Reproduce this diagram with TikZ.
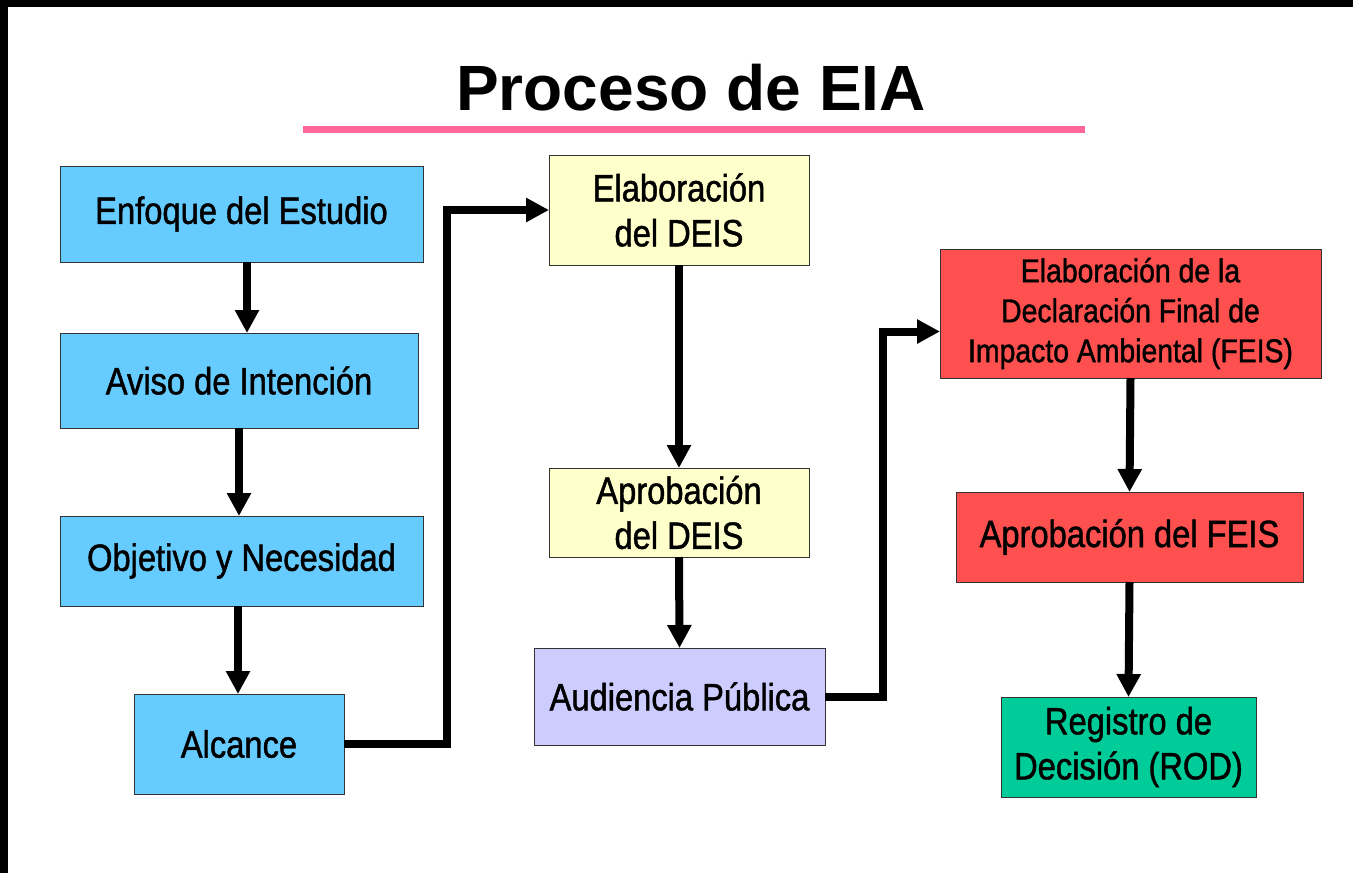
\documentclass[tikz,border=0pt]{standalone}
\usepackage{fontspec}
\setmainfont{Liberation Sans}
\newfontfamily\boxfont[FakeStretch=0.86,FakeBold=1.2]{Liberation Sans}
\usetikzlibrary{arrows.meta,calc}

% Colors
\definecolor{azulcaja}{HTML}{66CCFF}
\definecolor{amarillocaja}{HTML}{FFFFCC}
\definecolor{lilacaja}{HTML}{CCCCFF}
\definecolor{rojocaja}{HTML}{FF5050}
\definecolor{verdecaja}{HTML}{00CC99}
\definecolor{rosalinea}{HTML}{FF6699}

% Styles
\tikzset{
    caja/.style n args={3}{
        draw=black!80, line width=0.5pt, fill=#1,
        minimum width=#2, minimum height=#3,
        inner sep=0pt, outer sep=0pt, align=center,
        font=\boxfont\fontsize{19}{22.5}\selectfont
    },
    flujo/.style={
        line width=4pt, line join=miter,
        -{Triangle[width=11.5pt,length=11.5pt]}
    }
}

\begin{document}
\begin{tikzpicture}[x=0.5pt,y=-0.5pt]
  \useasboundingbox (0,0) rectangle (1353,873);

  % Frame
    \fill[black] (0,0) rectangle (1353,7);
    \fill[black] (0,0) rectangle (8,873);

  % Title
    \node[anchor=base,font=\bfseries\fontsize{32}{38}\selectfont] (titulo) at (691,110) {Proceso de EIA};
    \draw[rosalinea,line width=3.5pt] (303,129) -- (1085,129);

  % The graphic
  % left column
    \node[caja={azulcaja}{181.5pt}{48pt}] (enf) at (241.5,214) {Enfoque del Estudio};
    \node[caja={azulcaja}{179pt}{47.5pt}] (avi) at (239,380.5) {Aviso de Intención};
    \node[caja={azulcaja}{181.5pt}{45pt}] (obj) at (241.5,561) {Objetivo y Necesidad};
    \node[caja={azulcaja}{105pt}{50pt}] (alc) at (239,744) {Alcance};

  % middle column
    \node[caja={amarillocaja}{130pt}{55pt}] (edeis) at (679,210) {Elaboración\\del DEIS};
    \node[caja={amarillocaja}{130pt}{44.5pt}] (adeis) at (679,512.5) {Aprobación\\del DEIS};
    \node[caja={lilacaja}{145.5pt}{48.5pt}] (aud) at (679.5,696.5) {Audiencia Pública};

  % right column
    \node[caja={rojocaja}{190.5pt}{64.5pt},font=\boxfont\fontsize{16.5}{20}\selectfont] (efeis) at (1130.5,313.5)
      {Elaboración de la\\Declaración Final de\\Impacto Ambiental (FEIS)};
    \node[caja={rojocaja}{173.5pt}{45pt}] (afeis) at (1129.5,537) {Aprobación del FEIS};
    \node[caja={verdecaja}{127.5pt}{50pt}] (rod) at (1128.5,747) {Registro de\\Decisión (ROD)};

  % arrows
    \draw[flujo] ([xshift=2.75pt]enf.south) -- ([xshift=4pt]avi.north);
    \draw[flujo] (avi.south) -- ([xshift=-1.25pt]obj.north);
    \draw[flujo] ([xshift=-1.75pt]obj.south) -- ([xshift=-0.5pt]alc.north);
    \draw[flujo] (alc.east) -| ($(alc.east)!0.5!(edeis.west)$) |- (edeis.west);
    \draw[flujo] (edeis.south) -- (adeis.north);
    \draw[flujo] (adeis.south) -- (aud.north);
    \draw[flujo] (aud.east) -| ($(aud.east)!0.5!(efeis.west)$) |- ([yshift=-9pt]efeis.west);
    \draw[flujo] (efeis.south) -- (afeis.north);
    \draw[flujo] (afeis.south) -- (rod.north);
\end{tikzpicture}
\end{document}
